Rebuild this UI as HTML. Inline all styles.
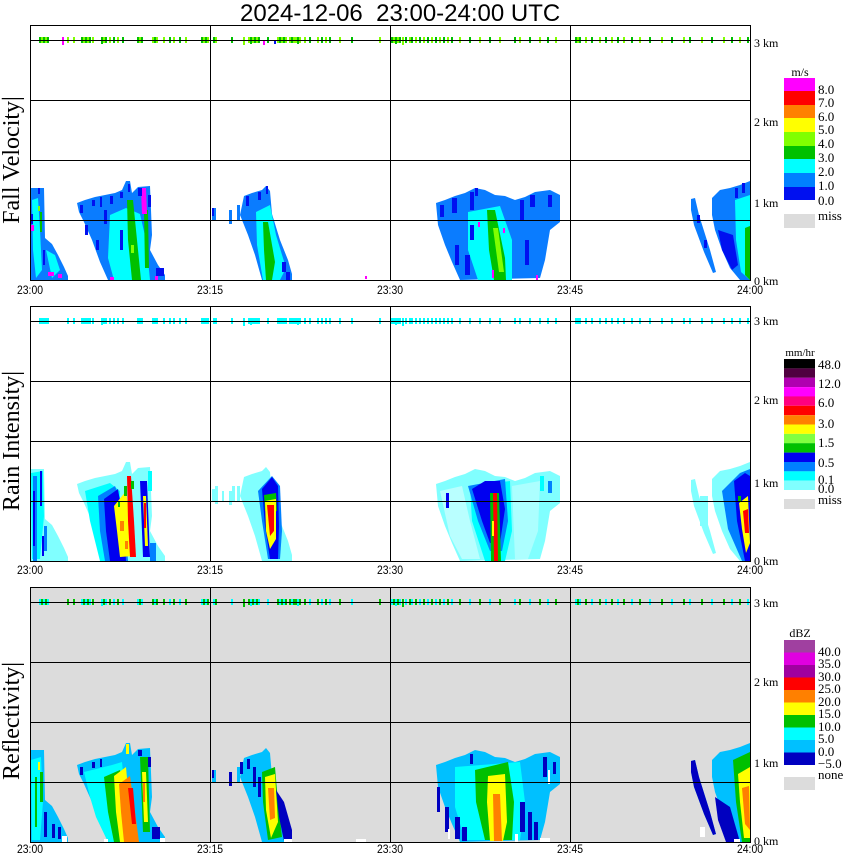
<!DOCTYPE html>
<html><head><meta charset="utf-8"><style>
html,body{margin:0;padding:0;background:#fff;width:850px;height:868px;overflow:hidden}
svg{display:block}
.t{font-family:"Liberation Sans",sans-serif}
.s{font-family:"Liberation Serif",serif}
</style></head><body>
<svg width="850" height="868" viewBox="0 0 850 868" xmlns="http://www.w3.org/2000/svg" xmlns:xlink="http://www.w3.org/1999/xlink">
<defs>
<path id="oAll" d="M30,188 L44,188 L45,238 L52,244 L58,255 L64,267 L68,276 L68,280 L30,280 Z
M77,203 L85,200 L95,197 L105,195 L115,193 L122,190 L126,181 L130,181 L132,193 L138,187 L150,186 L151,210 L152,235 L150,250 L158,265 L165,275 L165,280 L108,280 L100,262 L92,240 L84,222 L79,212 Z
M212,208 h4 v12 h-4 Z M229,210 h3 v14 h-3 Z M237,205 h3 v15 h-3 Z
M240,215 L244,196 L252,193 L262,190 L266,186 L270,191 L272,214 L280,240 L288,260 L292,274 L292,280 L262,280 L255,255 L248,235 Z
M436,203 L445,200 L455,196 L465,193 L475,188 L485,190 L495,195 L505,196 L515,200 L525,197 L535,192 L550,190 L560,195 L560,222 L550,230 L545,260 L540,278 L460,280 L452,262 L445,245 L438,225 Z
M691,199 L695,198 L699,215 L710,250 L716,272 L713,273 L704,252 L694,225 L691,210 Z
M712,198 L720,190 L730,188 L740,185 L750,181 L750,280 L740,280 L730,268 L722,250 L715,230 L712,215 Z"/>
<path id="dA" d="M40 37v6M44 37v6M48 37v6M82 37v6M86 37v6M90 37v6M102 37v7M106 37v6M114 37v6M123 37v6M138 37v6M142 37v6M155 37v6M170 37v6M180 37v6M202 37v6M206 37v6M214 37v6M232 37v6M251 37v7M255 37v6M259 37v6M268 37v6M280 37v6M284 37v6M292 37v6M298 37v7M310 37v6M322 37v6M330 37v6M352 37v6M392 37v6M396 37v7M400 37v6M406 37v6M412 37v6M420 37v6M428 37v6M436 37v6M444 37v6M452 37v6M470 37v6M490 37v6M515 37v6M530 37v6M548 37v6M576 37v6M580 37v6M592 37v6M606 37v6M618 37v6M632 37v6M650 37v6M672 37v6M690 37v6M712 37v6M732 37v6M748 37v6"/>
<path id="dB" d="M42 37v6M46 37v6M68 37v6M74 37v6M84 37v6M88 37v6M93 37v6M104 37v6M110 37v6M118 37v6M140 37v6M153 37v6M157 37v6M164 37v6M174 37v6M186 37v6M204 37v6M208 37v6M216 37v6M244 37v8M249 37v6M253 37v6M257 37v6M278 37v6M282 37v6M286 37v6M290 37v6M294 37v6M296 37v6M300 37v6M305 37v6M318 37v6M326 37v6M340 37v6M380 37v6M394 37v6M398 37v6M403 37v8M410 37v6M416 37v6M424 37v6M432 37v6M440 37v6M448 37v6M460 37v6M480 37v6M500 37v6M520 37v6M540 37v6M556 37v6M578 37v6M586 37v6M600 37v6M612 37v6M624 37v6M640 37v6M662 37v6M684 37v6M702 37v6M724 37v6M740 37v6"/>
<g id="grid">
<path d="M30 40.5H750M30 100.5H750M30 160.5H750M30 220.5H750M210.5 25V280M390.5 25V280M570.5 25V280" stroke="#000" stroke-width="1" fill="none"/>
<rect x="30.5" y="25.5" width="720" height="255" fill="none" stroke="#000" stroke-width="1"/>
</g>
</defs>

<!-- Title -->
<text class="t" x="240" y="21" font-size="24" style="white-space:pre" xml:space="preserve">2024-12-06  23:00-24:00 UTC</text>

<!-- ============ PANEL 1: Fall velocity ============ -->
<g>
<use xlink:href="#oAll" fill="#0a7cff"/>
<!-- A -->
<path d="M32,200 L38,198 L40,230 L42,270 L36,278 L33,250 Z" fill="#00ffff"/>
<path d="M46,250 L55,255 L60,270 L52,278 Z" fill="#00ffff"/>
<rect x="40" y="212" width="2" height="20" fill="#00c000"/>
<rect x="38" y="206" width="2" height="5" fill="#80ff00"/>
<rect x="30" y="214" width="3" height="10" fill="#0010f0"/>
<rect x="38" y="188" width="2" height="6" fill="#0010f0"/>
<rect x="43" y="250" width="2" height="15" fill="#0010f0"/>
<rect x="31" y="225" width="3" height="6" fill="#ff00ff"/>
<rect x="48" y="272" width="6" height="4" fill="#ff00ff"/>
<rect x="58" y="274" width="4" height="4" fill="#ff00ff"/>
<!-- B -->
<path d="M110,215 L126,208 L140,214 L146,240 L150,280 L114,280 L108,258 Z" fill="#00ffff"/>
<path d="M127,200 L133,200 L137,240 L141,280 L132,280 L128,240 Z" fill="#00c000"/>
<rect x="131" y="245" width="3" height="8" fill="#80ff00"/>
<path d="M144,210 L148,210 L149,268 L145,268 Z" fill="#00c000"/>
<path d="M141,188 L146,188 L147,214 L142,214 Z" fill="#ff00ff"/>
<g fill="#0010f0">
<rect x="80" y="205" width="3" height="8"/><rect x="92" y="200" width="3" height="6"/><rect x="100" y="197" width="2" height="10"/>
<rect x="110" y="196" width="3" height="8"/><rect x="120" y="192" width="3" height="6"/><rect x="128" y="184" width="2" height="8"/>
<rect x="138" y="188" width="4" height="8"/><rect x="148" y="195" width="3" height="12"/><rect x="85" y="225" width="3" height="10"/>
<rect x="96" y="240" width="3" height="10"/><rect x="156" y="268" width="8" height="8"/><rect x="120" y="230" width="3" height="20"/>
<rect x="104" y="210" width="3" height="14"/>
</g>
<rect x="110" y="277" width="4" height="3" fill="#ff00ff"/>
<rect x="155" y="276" width="3" height="4" fill="#ff00ff"/>
<!-- C -->
<path d="M256,212 L270,205 L276,235 L286,268 L280,280 L263,280 L257,245 Z" fill="#00ffff"/>
<path d="M263,222 L268,222 L275,262 L272,280 L266,280 L264,250 Z" fill="#00c000"/>
<g fill="#0010f0">
<rect x="246" y="196" width="3" height="10"/><rect x="258" y="192" width="3" height="8"/><rect x="266" y="186" width="2" height="8"/>
<rect x="282" y="262" width="4" height="10"/><rect x="286" y="272" width="4" height="8"/><rect x="212" y="208" width="2" height="8"/>
</g>
<rect x="365" y="276" width="2" height="3" fill="#ff00ff"/>
<!-- D -->
<path d="M468,212 L500,206 L512,240 L512,280 L478,280 L468,250 Z" fill="#00ffff"/>
<path d="M487,210 L495,210 L505,258 L506,280 L494,280 L489,250 Z" fill="#00c000"/>
<path d="M493,228 L498,228 L504,272 L499,272 Z" fill="#80ff00"/>
<g fill="#0010f0">
<rect x="440" y="205" width="4" height="12"/><rect x="452" y="198" width="5" height="15"/><rect x="470" y="192" width="4" height="18"/>
<rect x="475" y="188" width="3" height="8"/><rect x="520" y="200" width="4" height="20"/><rect x="530" y="195" width="5" height="12"/>
<rect x="548" y="195" width="4" height="12"/><rect x="455" y="245" width="4" height="20"/><rect x="465" y="255" width="5" height="20"/>
<rect x="525" y="240" width="4" height="25"/><rect x="470" y="225" width="4" height="15"/>
</g>
<g fill="#ff00ff">
<rect x="478" y="222" width="2" height="5"/><rect x="503" y="228" width="2" height="5"/><rect x="492" y="270" width="2" height="8"/><rect x="536" y="275" width="2" height="5"/>
</g>
<!-- E -->
<path d="M735,200 L750,195 L750,280 L741,272 L736,240 Z" fill="#00ffff"/>
<path d="M745,228 L750,226 L750,280 L745,275 Z" fill="#00c000"/>
<path d="M718,230 L733,235 L738,265 L732,270 L722,250 Z" fill="#0010f0"/>
<g fill="#0010f0">
<rect x="742" y="183" width="3" height="10"/><rect x="735" y="188" width="3" height="10"/><rect x="697" y="215" width="3" height="8"/><rect x="704" y="240" width="3" height="8"/>
</g>
<!-- 3 km echoes -->
<use xlink:href="#dA" stroke="#00c000" stroke-width="2"/>
<use xlink:href="#dB" stroke="#80ff00" stroke-width="2"/>
<rect x="62" y="37" width="2" height="8" fill="#ff00ff"/>
<rect x="263" y="40" width="2" height="5" fill="#ff00ff"/>
<rect x="274" y="41" width="2" height="3" fill="#0010f0"/>
<use xlink:href="#grid"/>
</g>

<!-- ============ PANEL 2: Rain intensity ============ -->
<g transform="translate(0,281)">
<use xlink:href="#oAll" fill="#80ffff"/>
<g fill="#80ffff">
<rect x="215" y="205" width="3" height="18"/><rect x="222" y="210" width="2" height="10"/><rect x="232" y="205" width="3" height="15"/><rect x="245" y="200" width="4" height="20"/>
<rect x="545" y="195" width="10" height="26"/><rect x="700" y="215" width="8" height="30"/>
</g>
<!-- lighten sparse areas -->
<path d="M440,210 L462,205 L470,240 L480,278 L462,278 L450,255 Z" fill="#ffffff" opacity="0.45"/>
<path d="M512,205 L540,200 L538,250 L528,278 L515,278 Z" fill="#ffffff" opacity="0.35"/>
<!-- A2 -->
<path d="M31,192 L43,190 L44,235 L40,278 L32,278 Z" fill="#00ffff"/>
<rect x="33" y="195" width="4" height="85" fill="#0080ff"/>
<rect x="33" y="210" width="2" height="55" fill="#0000f0"/>
<rect x="40" y="190" width="2" height="35" fill="#0000f0"/>
<rect x="44" y="245" width="3" height="25" fill="#0080ff"/>
<rect x="42" y="255" width="2" height="20" fill="#0000f0"/>
<!-- B2 -->
<path d="M85,210 L110,202 L120,210 L120,280 L100,280 L90,240 Z" fill="#00ffff"/>
<path d="M98,215 L115,205 L125,230 L128,280 L105,280 L100,250 Z" fill="#0080ff"/>
<path d="M104,218 L118,208 L124,245 L126,280 L110,280 L106,250 Z" fill="#0000f0"/>
<path d="M114,225 L126,210 L131,245 L134,275 L120,276 L117,250 Z" fill="#ffff00"/>
<rect x="120" y="240" width="4" height="10" fill="#ff8000"/>
<rect x="125" y="260" width="3" height="8" fill="#ff8000"/>
<path d="M127,195 L131,195 L134,240 L136,276 L130,276 L128,240 Z" fill="#ff0000"/>
<rect x="124" y="205" width="3" height="10" fill="#00c000"/>
<rect x="118" y="220" width="2" height="6" fill="#00c000"/>
<rect x="131" y="200" width="3" height="8" fill="#00c000"/>
<path d="M140,200 L147,200 L150,276 L143,276 Z" fill="#0000f0"/>
<path d="M143,215 L146,215 L148,265 L145,265 Z" fill="#ffff00"/>
<rect x="144" y="222" width="2" height="25" fill="#ff0000"/>
<rect x="150" y="262" width="6" height="18" fill="#0080ff"/>
<rect x="148" y="190" width="4" height="20" fill="#00ffff"/>
<!-- C2 -->
<path d="M258,210 L272,195 L280,205 L282,250 L280,278 L268,278 L262,240 Z" fill="#0080ff"/>
<path d="M262,208 L272,196 L278,205 L279,245 L278,278 L270,278 L265,245 Z" fill="#0000f0"/>
<path d="M264,214 L276,212 L277,230 L265,230 Z" fill="#00c000"/>
<path d="M265,220 L276,218 L276,258 L270,268 L266,250 Z" fill="#ffff00"/>
<path d="M267,224 L274,224 L274,250 L270,255 Z" fill="#ff0000"/>
<!-- D2 -->
<path d="M470,205 L510,200 L512,250 L505,280 L485,280 L472,240 Z" fill="#00ffff"/>
<path d="M468,205 L505,198 L508,240 L502,270 L490,270 L478,240 Z" fill="#0080ff"/>
<path d="M472,208 L485,200 L500,200 L505,228 L500,262 L490,262 L482,240 Z" fill="#0000f0"/>
<path d="M490,212 L499,212 L501,280 L491,280 Z" fill="#00c000"/>
<path d="M493,212 L497,212 L498,280 L494,280 Z" fill="#ff0000"/>
<rect x="492" y="240" width="2" height="15" fill="#ffff00"/>
<rect x="446" y="212" width="3" height="15" fill="#0000f0"/>
<rect x="548" y="200" width="4" height="12" fill="#0080ff"/>
<rect x="540" y="195" width="4" height="15" fill="#00ffff"/>
<!-- E2 -->
<path d="M722,210 L740,192 L750,188 L750,280 L742,280 L728,248 Z" fill="#0080ff"/>
<path d="M734,200 L745,192 L750,195 L750,280 L745,280 L737,240 Z" fill="#0000f0"/>
<path d="M739,222 L748,215 L750,262 L746,272 L742,248 Z" fill="#ffff00"/>
<path d="M743,230 L748,228 L749,252 L745,252 Z" fill="#ff0000"/>
<rect x="738" y="215" width="3" height="6" fill="#00c000"/>
<use xlink:href="#dA" stroke="#00ffff" stroke-width="2"/>
<use xlink:href="#dB" stroke="#00ffff" stroke-width="2"/>
<use xlink:href="#grid"/>
</g>

<!-- ============ PANEL 3: Reflectivity ============ -->
<g transform="translate(0,562)">
<rect x="30" y="25" width="720" height="255" fill="#dcdcdc"/>
<use xlink:href="#oAll" fill="#00c0ff"/>
<!-- A3 -->
<path d="M31,198 L41,195 L43,240 L40,278 L32,278 Z" fill="#00ffff"/>
<rect x="35" y="215" width="2" height="50" fill="#00c000"/>
<rect x="40" y="210" width="3" height="30" fill="#00c000"/>
<rect x="38" y="200" width="2" height="8" fill="#ffff00"/>
<rect x="44" y="250" width="3" height="25" fill="#0000c0"/>
<rect x="52" y="262" width="3" height="14" fill="#0000c0"/>
<rect x="58" y="265" width="3" height="12" fill="#0000c0"/>
<rect x="62" y="274" width="5" height="6" fill="#ffffff"/>
<!-- B3 -->
<path d="M84,210 L112,203 L122,200 L126,240 L130,280 L108,280 L96,255 L90,235 Z" fill="#00ffff"/>
<path d="M104,215 L120,208 L126,250 L129,280 L114,280 L108,250 Z" fill="#00c000"/>
<path d="M114,214 L126,205 L130,250 L134,280 L120,280 L116,250 Z" fill="#ffff00"/>
<path d="M119,222 L130,214 L135,250 L139,280 L124,280 L121,250 Z" fill="#ff8000"/>
<path d="M128,226 L133,226 L136,262 L132,262 Z" fill="#ff0000"/>
<rect x="126" y="182" width="3" height="10" fill="#ffff00"/>
<path d="M140,195 L148,195 L150,270 L143,270 Z" fill="#00c000"/>
<path d="M142,210 L146,210 L148,260 L144,260 Z" fill="#ffff00"/>
<rect x="143" y="220" width="2" height="20" fill="#ff8000"/>
<g fill="#0000c0">
<rect x="152" y="265" width="8" height="12"/><rect x="80" y="205" width="3" height="8"/><rect x="92" y="200" width="3" height="6"/>
<rect x="100" y="197" width="2" height="8"/><rect x="138" y="188" width="4" height="6"/><rect x="148" y="195" width="3" height="10"/>
</g>
<rect x="160" y="276" width="5" height="4" fill="#ffffff"/>
<rect x="104" y="277" width="4" height="3" fill="#ffffff"/>
<!-- C3 -->
<path d="M262,210 L275,205 L278,240 L282,275 L268,278 L263,240 Z" fill="#00c000"/>
<path d="M265,215 L275,212 L278,260 L271,276 L266,248 Z" fill="#ffff00"/>
<path d="M268,226 L274,226 L275,256 L270,258 Z" fill="#ff8000"/>
<path d="M276,228 L284,240 L292,268 L292,279 L284,279 L279,255 Z" fill="#0000c0"/>
<g fill="#0000c0">
<rect x="240" y="200" width="3" height="12"/><rect x="247" y="197" width="3" height="10"/><rect x="253" y="205" width="3" height="20"/>
<rect x="258" y="215" width="3" height="20"/><rect x="212" y="208" width="2" height="8"/><rect x="229" y="210" width="3" height="14"/>
</g>
<rect x="356" y="277" width="10" height="3" fill="#ffffff"/>
<rect x="284" y="277" width="8" height="3" fill="#ffffff"/>
<!-- D3 -->
<path d="M455,205 L520,200 L525,240 L520,278 L465,278 L455,245 Z" fill="#00ffff"/>
<path d="M475,208 L508,200 L514,240 L512,278 L485,278 L476,240 Z" fill="#00c000"/>
<path d="M488,214 L505,212 L507,260 L503,279 L490,279 L487,240 Z" fill="#ffff00"/>
<path d="M493,232 L500,232 L502,279 L494,279 Z" fill="#ff8000"/>
<g fill="#0000c0">
<rect x="437" y="225" width="3" height="25"/><rect x="445" y="245" width="4" height="25"/><rect x="455" y="255" width="5" height="22"/>
<rect x="462" y="265" width="5" height="14"/><rect x="520" y="240" width="5" height="30"/><rect x="528" y="250" width="4" height="28"/>
<rect x="534" y="260" width="4" height="18"/><rect x="543" y="195" width="4" height="20"/><rect x="553" y="200" width="3" height="12"/>
<rect x="470" y="192" width="3" height="10"/>
</g>
<g fill="#ffffff">
<rect x="448" y="267" width="2" height="10"/><rect x="515" y="272" width="3" height="8"/><rect x="540" y="276" width="10" height="4"/><rect x="548" y="208" width="2" height="14"/>
</g>
<!-- E3 -->
<path d="M691,199 L695,198 L699,215 L710,250 L716,272 L713,273 L704,252 L694,225 L691,210 Z" fill="#0000c0"/>
<rect x="700" y="265" width="5" height="10" fill="#ffffff"/>
<path d="M715,235 L730,245 L740,280 L726,280 L718,258 Z" fill="#0000c0"/>
<path d="M733,198 L750,190 L750,280 L742,280 L736,240 Z" fill="#00c000"/>
<path d="M738,212 L750,205 L750,276 L744,276 L740,240 Z" fill="#ffff00"/>
<path d="M742,226 L749,224 L750,268 L745,262 Z" fill="#ff8000"/>
<rect x="734" y="277" width="6" height="3" fill="#ffffff"/>
<use xlink:href="#dA" stroke="#00ffff" stroke-width="2"/>
<use xlink:href="#dB" stroke="#00c000" stroke-width="2"/>
<use xlink:href="#grid"/>
</g>

<!-- Left axis titles -->
<text class="s" font-size="24" text-anchor="middle" transform="translate(19,160) rotate(-90)">Fall Velocity|</text>
<text class="s" font-size="24" text-anchor="middle" transform="translate(19,441) rotate(-90)">Rain Intensity|</text>
<text class="s" font-size="24" text-anchor="middle" transform="translate(19,721) rotate(-90)">Reflectivity|</text>

<!-- km labels -->
<g class="s" font-size="12">
<text x="754" y="47">3 km</text><text x="754" y="126">2 km</text><text x="754" y="207">1 km</text><text x="754" y="285">0 km</text>
<text x="754" y="325">3 km</text><text x="754" y="404">2 km</text><text x="754" y="487">1 km</text><text x="754" y="565">0 km</text>
<text x="754" y="607">3 km</text><text x="754" y="686">2 km</text><text x="754" y="767">1 km</text><text x="754" y="845">0 km</text>
</g>

<!-- time labels -->
<g class="t" font-size="12" text-anchor="middle">
<text x="30" y="294" textLength="26" lengthAdjust="spacingAndGlyphs">23:00</text>
<text x="210" y="294" textLength="26" lengthAdjust="spacingAndGlyphs">23:15</text>
<text x="390" y="294" textLength="26" lengthAdjust="spacingAndGlyphs">23:30</text>
<text x="570" y="294" textLength="26" lengthAdjust="spacingAndGlyphs">23:45</text>
<text x="750" y="294" textLength="26" lengthAdjust="spacingAndGlyphs">24:00</text>
<text x="30" y="574" textLength="26" lengthAdjust="spacingAndGlyphs">23:00</text>
<text x="210" y="574" textLength="26" lengthAdjust="spacingAndGlyphs">23:15</text>
<text x="390" y="574" textLength="26" lengthAdjust="spacingAndGlyphs">23:30</text>
<text x="570" y="574" textLength="26" lengthAdjust="spacingAndGlyphs">23:45</text>
<text x="750" y="574" textLength="26" lengthAdjust="spacingAndGlyphs">24:00</text>
<text x="30" y="853" textLength="26" lengthAdjust="spacingAndGlyphs">23:00</text>
<text x="210" y="853" textLength="26" lengthAdjust="spacingAndGlyphs">23:15</text>
<text x="390" y="853" textLength="26" lengthAdjust="spacingAndGlyphs">23:30</text>
<text x="570" y="853" textLength="26" lengthAdjust="spacingAndGlyphs">23:45</text>
<text x="750" y="853" textLength="26" lengthAdjust="spacingAndGlyphs">24:00</text>
</g>

<!-- Colorbar 1: m/s -->
<g>
<rect x="784" y="78" width="31" height="13" fill="#ff00ff"/>
<rect x="784" y="91" width="31" height="14" fill="#ff0000"/>
<rect x="784" y="105" width="31" height="13" fill="#ff8000"/>
<rect x="784" y="118" width="31" height="14" fill="#ffff00"/>
<rect x="784" y="132" width="31" height="14" fill="#80ff00"/>
<rect x="784" y="146" width="31" height="13" fill="#00c000"/>
<rect x="784" y="159" width="31" height="14" fill="#00ffff"/>
<rect x="784" y="173" width="31" height="14" fill="#0080ff"/>
<rect x="784" y="187" width="31" height="13" fill="#0010f0"/>
<rect x="784" y="214" width="31" height="14" fill="#dcdcdc"/>
<g class="s" font-size="13">
<text x="800" y="76" text-anchor="middle" font-size="12">m/s</text>
<text x="818" y="94">8.0</text><text x="818" y="107">7.0</text><text x="818" y="121">6.0</text><text x="818" y="134">5.0</text>
<text x="818" y="148">4.0</text><text x="818" y="162">3.0</text><text x="818" y="176">2.0</text><text x="818" y="190">1.0</text>
<text x="818" y="205">0.0</text><text x="818" y="220">miss</text>
</g>
</g>

<!-- Colorbar 2: mm/hr -->
<g>
<rect x="784" y="359" width="31" height="9.4" fill="#000000"/>
<rect x="784" y="368.4" width="31" height="9.4" fill="#500040"/>
<rect x="784" y="377.7" width="31" height="9.4" fill="#b000b0"/>
<rect x="784" y="387.1" width="31" height="9.4" fill="#ff00ff"/>
<rect x="784" y="396.4" width="31" height="9.4" fill="#ff0080"/>
<rect x="784" y="405.8" width="31" height="9.4" fill="#ff0000"/>
<rect x="784" y="415.2" width="31" height="9.4" fill="#ff8000"/>
<rect x="784" y="424.5" width="31" height="9.4" fill="#ffff00"/>
<rect x="784" y="433.9" width="31" height="9.4" fill="#80ff40"/>
<rect x="784" y="443.2" width="31" height="9.4" fill="#00c000"/>
<rect x="784" y="452.6" width="31" height="9.4" fill="#0000f0"/>
<rect x="784" y="462" width="31" height="9.4" fill="#0080ff"/>
<rect x="784" y="471.3" width="31" height="9.4" fill="#00ffff"/>
<rect x="784" y="480.7" width="31" height="9.3" fill="#80ffff"/>
<rect x="784" y="499" width="31" height="10" fill="#dcdcdc"/>
<g class="s" font-size="13">
<text x="800" y="356" text-anchor="middle" font-size="11">mm/hr</text>
<text x="818" y="369">48.0</text><text x="818" y="388">12.0</text><text x="818" y="407">6.0</text><text x="818" y="428">3.0</text>
<text x="818" y="447">1.5</text><text x="818" y="467">0.5</text><text x="818" y="484">0.1</text><text x="818" y="493">0.0</text>
<text x="818" y="504">miss</text>
</g>
</g>

<!-- Colorbar 3: dBZ -->
<g>
<rect x="784" y="640" width="31" height="12.5" fill="#a040a0"/>
<rect x="784" y="652.5" width="31" height="12.5" fill="#e000e0"/>
<rect x="784" y="665" width="31" height="12.5" fill="#a000a0"/>
<rect x="784" y="677.5" width="31" height="12.5" fill="#ff0000"/>
<rect x="784" y="690" width="31" height="12.5" fill="#ff8000"/>
<rect x="784" y="702.5" width="31" height="12.5" fill="#ffff00"/>
<rect x="784" y="715" width="31" height="12.5" fill="#00c000"/>
<rect x="784" y="727.5" width="31" height="12.5" fill="#00ffff"/>
<rect x="784" y="740" width="31" height="12.5" fill="#00c0ff"/>
<rect x="784" y="752.5" width="31" height="12.5" fill="#0000c0"/>
<rect x="784" y="777" width="31" height="13" fill="#dcdcdc"/>
<g class="s" font-size="13">
<text x="800" y="637" text-anchor="middle" font-size="12">dBZ</text>
<text x="818" y="656">40.0</text><text x="818" y="668">35.0</text><text x="818" y="681">30.0</text><text x="818" y="693">25.0</text>
<text x="818" y="706">20.0</text><text x="818" y="718">15.0</text><text x="818" y="731">10.0</text><text x="818" y="743">5.0</text>
<text x="818" y="756">0.0</text><text x="818" y="768">−5.0</text><text x="818" y="779">none</text>
</g>
</g>
</svg>
</body></html>
